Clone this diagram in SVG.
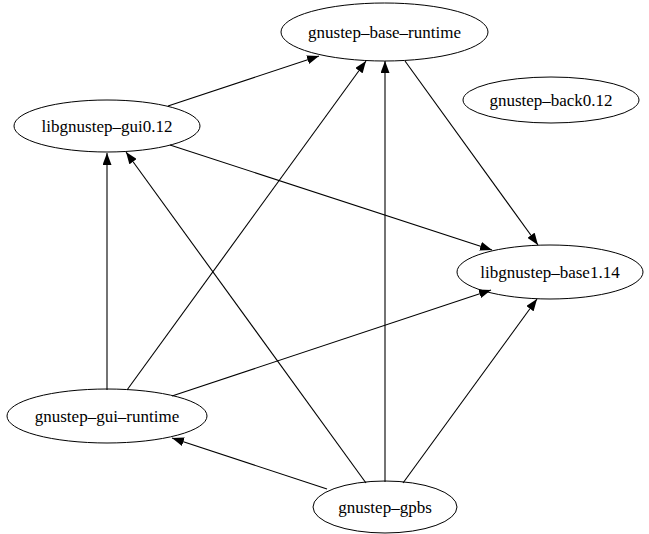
<svg xmlns="http://www.w3.org/2000/svg" width="649" height="534" viewBox="0 0 649 534">
<style>
.n ellipse{fill:none;stroke:#000;stroke-width:1}
.n text{font-family:"Liberation Serif","Times New Roman",serif;font-size:17px;text-anchor:middle;fill:#000}
#edges line{stroke:#000;stroke-width:1.1;marker-end:url(#ah)}
</style>
<defs>
<marker id="ah" markerUnits="userSpaceOnUse" markerWidth="12" markerHeight="9" refX="12" refY="4.5" orient="auto" viewBox="0 0 12 9">
<path d="M0,0 L12,4.5 L0,9 z" fill="#000"/>
</marker>
</defs>
<rect width="649" height="534" fill="#fff"/>
<g id="edges">
<line x1="168" y1="106" x2="319" y2="56"/>
<line x1="170" y1="145" x2="492" y2="250"/>
<line x1="405" y1="61" x2="538" y2="245"/>
<line x1="107" y1="390" x2="107" y2="153"/>
<line x1="127" y1="390" x2="366" y2="61"/>
<line x1="172" y1="396" x2="491" y2="290"/>
<line x1="327" y1="489" x2="172" y2="438"/>
<line x1="366" y1="483" x2="126" y2="152"/>
<line x1="385" y1="482" x2="385" y2="61"/>
<line x1="403" y1="483" x2="537" y2="299"/>
</g>
<g id="gnustep-base-runtime" class="n"><ellipse cx="384.5" cy="32" rx="103.5" ry="29"/><text x="384.5" y="38">gnustep–base–runtime</text></g>
<g id="libgnustep-gui0.12" class="n"><ellipse cx="107" cy="126" rx="93" ry="26"/><text x="107" y="132">libgnustep–gui0.12</text></g>
<g id="gnustep-back0.12" class="n"><ellipse cx="551" cy="100" rx="88" ry="23"/><text x="551" y="106">gnustep–back0.12</text></g>
<g id="libgnustep-base1.14" class="n"><ellipse cx="550" cy="272" rx="93" ry="27"/><text x="550" y="278">libgnustep–base1.14</text></g>
<g id="gnustep-gui-runtime" class="n"><ellipse cx="107" cy="416" rx="100" ry="27"/><text x="107" y="422">gnustep–gui–runtime</text></g>
<g id="gnustep-gpbs" class="n"><ellipse cx="385" cy="507" rx="72" ry="26"/><text x="385" y="513">gnustep–gpbs</text></g>
</svg>
